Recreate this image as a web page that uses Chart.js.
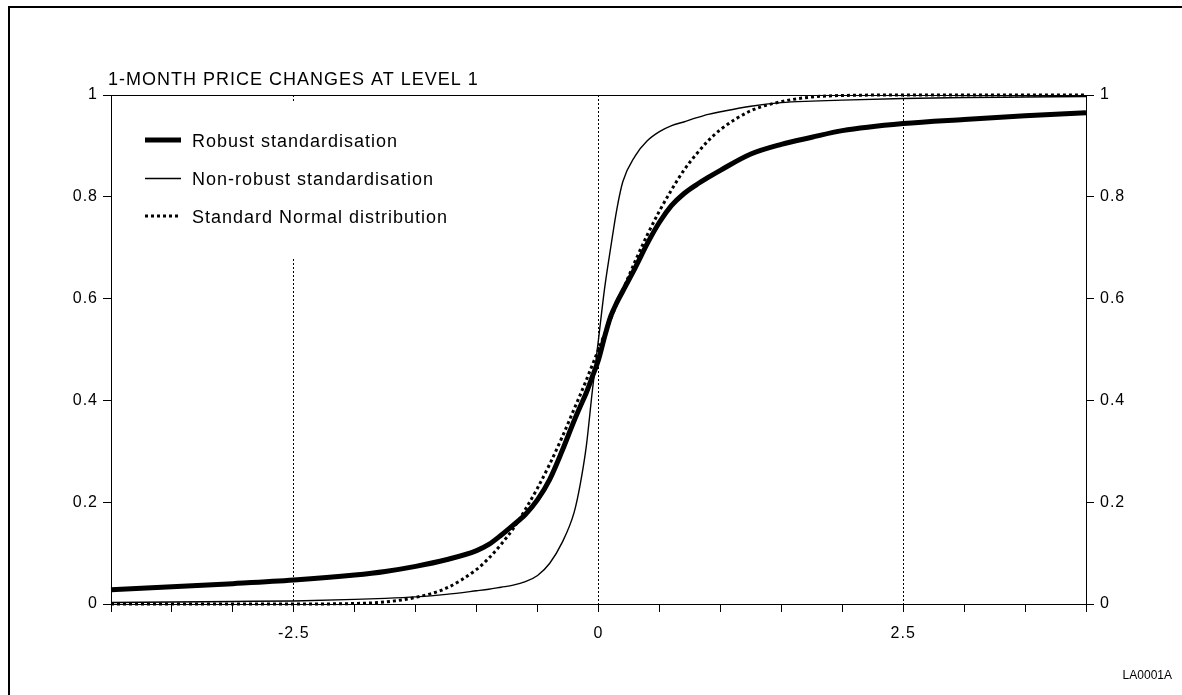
<!DOCTYPE html>
<html>
<head>
<meta charset="utf-8">
<script src="https://cdn.jsdelivr.net/npm/chart.js@4.4.1/dist/chart.umd.min.js"></script>
<style>
html,body{margin:0;padding:0;background:#fff;}
#wrap{position:relative;width:1182px;height:695px;}
canvas{display:block;}
</style>
</head>
<body>
<div id="wrap"><canvas id="c" width="1182" height="695"></canvas></div>
<script>
const titleText = "1-MONTH PRICE CHANGES AT LEVEL 1";
const footText = "LA0001A";
const seriesNames = ["Robust standardisation", "Non-robust standardisation", "Standard Normal distribution"];
const xTickLabels = [-2.5, 0, 2.5];
const yTickLabels = [0, 0.2, 0.4, 0.6, 0.8, 1];

const xValues = [-4, -3.5, -3, -2.5, -2, -1.75, -1.5, -1.25, -1, -0.9, -0.8, -0.7, -0.6, -0.5, -0.4, -0.3, -0.2, -0.15, -0.1, -0.05, 0, 0.05, 0.1, 0.15, 0.2, 0.3, 0.4, 0.5, 0.6, 0.7, 0.8, 0.9, 1, 1.25, 1.5, 1.75, 2, 2.5, 3, 3.5, 4];
const robust = [0.028, 0.034, 0.040, 0.047, 0.057, 0.064, 0.074, 0.087, 0.105, 0.117, 0.135, 0.155, 0.176, 0.205, 0.245, 0.300, 0.360, 0.388, 0.415, 0.447, 0.480, 0.525, 0.565, 0.592, 0.615, 0.660, 0.708, 0.750, 0.783, 0.806, 0.823, 0.838, 0.852, 0.884, 0.903, 0.917, 0.930, 0.944, 0.952, 0.959, 0.965];
const nonRobust = [0.003, 0.004, 0.005, 0.006, 0.009, 0.011, 0.014, 0.019, 0.026, 0.029, 0.033, 0.037, 0.044, 0.056, 0.080, 0.120, 0.180, 0.235, 0.310, 0.420, 0.520, 0.620, 0.700, 0.775, 0.830, 0.880, 0.910, 0.928, 0.940, 0.947, 0.955, 0.962, 0.967, 0.978, 0.985, 0.988, 0.990, 0.993, 0.995, 0.996, 0.997];
const normal = [0.000, 0.000, 0.000, 0.000, 0.001, 0.004, 0.013, 0.031, 0.068, 0.090, 0.117, 0.148, 0.186, 0.228, 0.275, 0.327, 0.383, 0.411, 0.440, 0.470, 0.500, 0.530, 0.560, 0.589, 0.617, 0.673, 0.725, 0.772, 0.814, 0.852, 0.883, 0.910, 0.932, 0.969, 0.987, 0.996, 0.999, 1.000, 1.000, 1.000, 1.000];

const FONT = "'Liberation Sans', Arial, Helvetica, sans-serif";
const pts = arr => xValues.map((x, i) => ({x: x, y: arr[i]}));

const decor = {
  id: 'decor',
  beforeDraw(chart) {
    chart.ctx.letterSpacing = '1px';
  },
  beforeDatasetsDraw(chart) {
    const ctx = chart.ctx;
    ctx.save();
    ctx.fillStyle = '#fff';
    ctx.fillRect(128, 101, 340, 156);
    const rows = [{y: 140, w: 5, dash: []}, {y: 178.5, w: 1.4, dash: []}, {y: 216, w: 3, dash: [3, 3]}];
    rows.forEach((r, i) => {
      ctx.beginPath();
      ctx.strokeStyle = '#000';
      ctx.lineWidth = r.w;
      ctx.setLineDash(r.dash);
      ctx.moveTo(145, r.y); ctx.lineTo(181, r.y);
      ctx.stroke();
      ctx.setLineDash([]);
      ctx.fillStyle = '#000';
      ctx.font = '18px ' + FONT;
      ctx.letterSpacing = '1px';
      ctx.textBaseline = 'middle';
      ctx.textAlign = 'left';
      ctx.fillText(seriesNames[i], 192, r.y + 2);
    });
    ctx.restore();
  },
  afterDraw(chart) {
    const ctx = chart.ctx, a = chart.chartArea;
    ctx.save();
    ctx.strokeStyle = '#000';
    ctx.lineWidth = 1;
    ctx.beginPath();
    ctx.moveTo(a.left - 8, Math.round(a.top) + 0.5);
    ctx.lineTo(a.right + 8, Math.round(a.top) + 0.5);
    ctx.stroke();
    ctx.lineWidth = 2;
    ctx.beginPath();
    ctx.moveTo(9, 695); ctx.lineTo(9, 7); ctx.lineTo(1182, 7);
    ctx.stroke();
    ctx.fillStyle = '#000';
    ctx.font = '18px ' + FONT;
    ctx.letterSpacing = '1px';
    ctx.textBaseline = 'alphabetic';
    ctx.textAlign = 'left';
    ctx.fillText(titleText, 108, 85);
    ctx.font = '12px ' + FONT;
    ctx.letterSpacing = '0px';
    ctx.textAlign = 'right';
    ctx.fillText(footText, 1172, 679);
    ctx.restore();
  }
};

const isLabelled = v => xTickLabels.some(t => Math.abs(t - v) < 1e-9);

new Chart(document.getElementById('c'), {
  type: 'line',
  data: {
    datasets: [
      {label: seriesNames[0], data: pts(robust), borderColor: '#000', borderWidth: 5, pointRadius: 0, cubicInterpolationMode: 'monotone', fill: false},
      {label: seriesNames[1], data: pts(nonRobust), borderColor: '#000', borderWidth: 1.4, pointRadius: 0, cubicInterpolationMode: 'monotone', fill: false},
      {label: seriesNames[2], data: pts(normal), borderColor: '#000', borderWidth: 3, borderDash: [3, 3], pointRadius: 0, cubicInterpolationMode: 'monotone', fill: false}
    ]
  },
  options: {
    responsive: false,
    animation: false,
    clip: false,
    layout: {padding: {top: 95, left: 0, right: 0, bottom: 0}},
    plugins: {legend: {display: false}, tooltip: {enabled: false}, title: {display: false}},
    scales: {
      x: {
        type: 'linear', min: -4, max: 4,
        afterBuildTicks: s => { s.ticks = []; for (let i = -8; i <= 8; i++) s.ticks.push({value: i / 2}); },
        afterFit: s => { s.height = 91; },
        border: {display: true, color: '#000', width: 1, dash: [2, 2]},
        grid: {
          drawOnChartArea: true, drawTicks: true, tickLength: 8,
          color: c => (c.tick && isLabelled(c.tick.value)) ? '#000' : 'rgba(0,0,0,0)',
          lineWidth: 1, tickBorderDash: [], tickColor: '#000'
        },
        ticks: {
          color: '#000', font: {family: FONT, size: 16}, padding: 12, maxRotation: 0, autoSkip: false,
          callback: v => isLabelled(v) ? String(v) : ''
        }
      },
      y: {
        type: 'linear', position: 'left', min: 0, max: 1,
        afterBuildTicks: s => { s.ticks = yTickLabels.map(v => ({value: v})); },
        afterFit: s => { s.width = 111; },
        border: {display: true, color: '#000', width: 1},
        grid: {drawOnChartArea: false, drawTicks: true, tickLength: 8, tickColor: '#000'},
        ticks: {color: '#000', font: {family: FONT, size: 16}, padding: 5, callback: v => String(v)}
      },
      y2: {
        type: 'linear', position: 'right', min: 0, max: 1,
        afterBuildTicks: s => { s.ticks = yTickLabels.map(v => ({value: v})); },
        afterFit: s => { s.width = 96; },
        border: {display: true, color: '#000', width: 1},
        grid: {drawOnChartArea: false, drawTicks: true, tickLength: 8, tickColor: '#000'},
        ticks: {color: '#000', font: {family: FONT, size: 16}, padding: 6, callback: v => String(v)}
      }
    }
  },
  plugins: [decor]
});
</script>
</body>
</html>
